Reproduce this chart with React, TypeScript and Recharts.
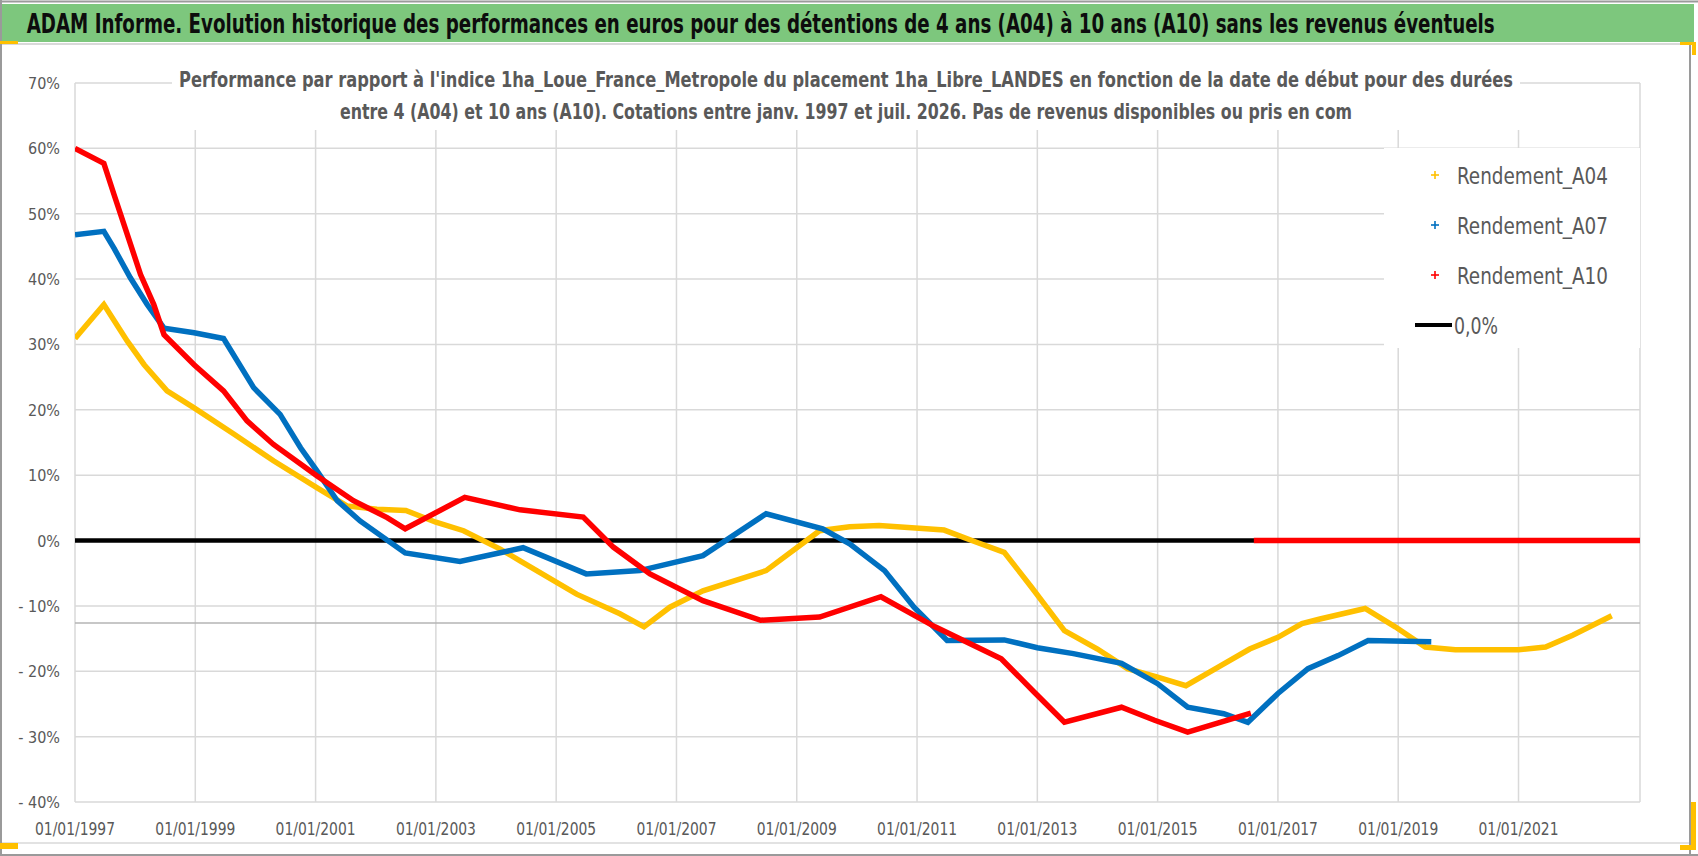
import React from "react";
import { LineChart, Line, XAxis, YAxis, CartesianGrid, ReferenceLine, Legend } from "recharts";

// ---------- data ----------
const A04_YEARS = [1997.0, 1997.48, 1997.87, 1998.15, 1998.53, 1998.98, 1999.64, 2000.3, 2001.02, 2001.52, 2002.02, 2002.5, 2003.0, 2003.46, 2004.07, 2004.4, 2005.34, 2006.06, 2006.46, 2006.89, 2007.44, 2008.49, 2009.0, 2009.38, 2009.88, 2010.37, 2011.45, 2012.0, 2012.45, 2012.9, 2013.45, 2014.0, 2014.5, 2015.0, 2015.47, 2016.0, 2016.53, 2017.0, 2017.4, 2017.7, 2018.45, 2018.95, 2019.45, 2019.95, 2021.0, 2021.45, 2021.9, 2022.55];
const A04_VALUES = [30.9, 36.1, 30.5, 26.9, 22.9, 20.3, 16.3, 12.2, 8.1, 5.3, 4.8, 4.6, 2.8, 1.5, -1.3, -3.1, -8.2, -11.2, -13.2, -10.2, -7.7, -4.6, -1.1, 1.5, 2.1, 2.3, 1.6, -0.3, -1.8, -7.1, -13.8, -16.6, -19.6, -20.9, -22.2, -19.4, -16.6, -14.8, -12.7, -12.0, -10.4, -13.2, -16.3, -16.7, -16.7, -16.3, -14.5, -11.5];

const A07_YEARS = [1997.0, 1997.48, 1997.65, 1997.92, 1998.2, 1998.48, 1998.98, 1999.47, 1999.97, 2000.41, 2000.75, 2001.02, 2001.36, 2001.74, 2002.49, 2003.4, 2004.45, 2005.5, 2006.39, 2007.44, 2008.49, 2009.43, 2009.88, 2010.46, 2010.95, 2011.5, 2012.45, 2013.0, 2013.6, 2014.4, 2015.0, 2015.5, 2016.1, 2016.5, 2017.0, 2017.5, 2018.0, 2018.5, 2019.55];
const A07_VALUES = [46.8, 47.3, 44.7, 40.2, 36.1, 32.5, 31.8, 30.9, 23.4, 19.3, 14.2, 10.7, 6.1, 3.0, -1.9, -3.2, -1.1, -5.1, -4.6, -2.3, 4.1, 1.8, -0.5, -4.6, -10.2, -15.3, -15.2, -16.4, -17.3, -18.8, -21.9, -25.5, -26.5, -27.8, -23.4, -19.6, -17.6, -15.3, -15.5];

const A10_YEARS = [1997.0, 1997.48, 1997.65, 1997.87, 1998.09, 1998.31, 1998.48, 1998.98, 1999.47, 1999.86, 2000.3, 2001.02, 2001.63, 2002.19, 2002.49, 2003.48, 2004.4, 2005.45, 2005.95, 2006.56, 2007.44, 2008.4, 2009.38, 2010.4, 2011.3, 2012.4, 2012.95, 2013.45, 2014.4, 2014.95, 2015.5, 2016.55];
const A10_VALUES = [60.0, 57.7, 52.9, 46.8, 40.7, 36.1, 31.5, 26.9, 22.9, 18.3, 14.7, 9.9, 6.1, 3.5, 1.8, 6.6, 4.7, 3.6, -1.0, -5.1, -9.2, -12.2, -11.7, -8.6, -13.2, -18.1, -23.2, -27.8, -25.5, -27.5, -29.3, -26.4];
// A10 has no quotations after mid-2016: Excel plots it as 0
const A10_ZERO_YEARS = [2016.6, 2023.02];
const A10_ZERO_VALUES = [0, 0];

const ZERO_YEARS = [1997.0, 2023.02];
const ZERO_VALUES = [0, 0];

const GRAY_LEVEL = -12.6;

const X_TICKS = [1997, 1999, 2001, 2003, 2005, 2007, 2009, 2011, 2013, 2015, 2017, 2019, 2021];
const Y_TICKS = [-40, -30, -20, -10, 0, 10, 20, 30, 40, 50, 60, 70];

const TITLE = "ADAM Informe. Evolution historique des performances en euros pour des détentions de 4 ans (A04) à 10 ans (A10) sans les revenus éventuels";
const SUBTITLE_1 = "Performance par rapport à l'indice 1ha_Loue_France_Metropole  du placement 1ha_Libre_LANDES en fonction de la date de début pour des durées";
const SUBTITLE_2 = "entre 4 (A04) et 10 ans (A10). Cotations entre janv. 1997 et juil. 2026. Pas de revenus disponibles ou pris en com";

const SERIES_NAMES = ["Rendement_A04", "Rendement_A07", "Rendement_A10", "0,0%"];
const SERIES_COLORS = ["#FFC000", "#0070C0", "#FF0000", "#000000"];

// ---------- helpers ----------
const toPoints = (xs: number[], ys: (number | null)[]) => xs.map((x, i) => ({ x, y: ys[i] }));

const a04Data = toPoints(A04_YEARS, A04_VALUES);
const a07Data = toPoints(A07_YEARS, A07_VALUES);
const a10Data = [
  ...toPoints(A10_YEARS, A10_VALUES),
  { x: (A10_YEARS[A10_YEARS.length - 1] + A10_ZERO_YEARS[0]) / 2, y: null },
  ...toPoints(A10_ZERO_YEARS, A10_ZERO_VALUES),
];
const zeroData = toPoints(ZERO_YEARS, ZERO_VALUES);

const FONT = '"Liberation Sans Narrow", "Arial Narrow", "DejaVu Sans Condensed", "Liberation Sans", Arial, sans-serif';
const GRAY_TEXT = "#595959";

const fmtY = (v: number) => (v < 0 ? `- ${Math.abs(v)}%` : `${v}%`);
const fmtX = (v: number) => `01/01/${v}`;

const XTick = (props: any) => {
  const { x, y, payload } = props;
  return (
    <text
      transform={`translate(${x} ${y + 33}) scale(1 1.12)`}
      textAnchor="middle"
      fontFamily={FONT}
      fontSize={15}
      fill={GRAY_TEXT}
      textLength={80}
      lengthAdjust="spacingAndGlyphs"
    >
      {fmtX(payload.value)}
    </text>
  );
};

const YTick = (props: any) => {
  const { x, y, payload } = props;
  return (
    <text x={x - 15} y={y + 6} textAnchor="end" fontFamily={FONT} fontSize={16} fill={GRAY_TEXT}>
      {fmtY(payload.value)}
    </text>
  );
};

const LegendContent = () => {
  const rows = [27, 77, 127, 177];
  return (
    <svg width={256} height={200} style={{ display: "block" }}>
      <rect x={0} y={0} width={256} height={200} fill="#ffffff" />
      {SERIES_NAMES.map((name, i) => {
        const cy = rows[i];
        const isLine = i === 3;
        return (
          <g key={name}>
            {isLine ? (
              <line x1={31} x2={68} y1={cy} y2={cy} stroke={SERIES_COLORS[i]} strokeWidth={4} />
            ) : (
              <g stroke={SERIES_COLORS[i]} strokeWidth={1.6}>
                <line x1={47} x2={55} y1={cy} y2={cy} />
                <line x1={51} x2={51} y1={cy - 4} y2={cy + 4} />
              </g>
            )}
            <text
              transform={`translate(${isLine ? 70 : 73} ${cy + 8.5}) scale(1 1.1)`}
              fontFamily={FONT}
              fontSize={21}
              fill={GRAY_TEXT}
              textLength={isLine ? 44 : 151}
              lengthAdjust="spacingAndGlyphs"
            >
              {name}
            </text>
          </g>
        );
      })}
    </svg>
  );
};

export default function App() {
  return (
    <div style={{ position: "absolute", left: 0, top: 0, width: 1698, height: 856, background: "#ffffff", overflow: "hidden" }}>
      <LineChart width={1698} height={856} margin={{ top: 83, right: 58, left: 0, bottom: 0 }}>
        <CartesianGrid stroke="#d9d9d9" strokeWidth={1.5} />
        <XAxis
          type="number"
          dataKey="x"
          domain={[1997, 2023.02]}
          ticks={X_TICKS}
          allowDataOverflow
          axisLine={false}
          tickLine={false}
          tickSize={0}
          tickMargin={0}
          height={54}
          tick={<XTick />}
          interval={0}
        />
        <YAxis
          type="number"
          domain={[-40, 70]}
          ticks={Y_TICKS}
          allowDataOverflow
          axisLine={false}
          tickLine={false}
          tickSize={0}
          tickMargin={0}
          width={75}
          tick={<YTick />}
          interval={0}
        />
        <ReferenceLine y={GRAY_LEVEL} stroke="#b4b4b4" strokeWidth={1.5} />
        <Line data={zeroData} dataKey="y" name={SERIES_NAMES[3]} stroke={SERIES_COLORS[3]} strokeWidth={4.5} dot={false} isAnimationActive={false} type="linear" />
        <Line data={a04Data} dataKey="y" name={SERIES_NAMES[0]} stroke={SERIES_COLORS[0]} strokeWidth={5.5} dot={false} isAnimationActive={false} type="linear" />
        <Line data={a07Data} dataKey="y" name={SERIES_NAMES[1]} stroke={SERIES_COLORS[1]} strokeWidth={5.5} dot={false} isAnimationActive={false} type="linear" />
        <Line data={a10Data} dataKey="y" name={SERIES_NAMES[2]} stroke={SERIES_COLORS[2]} strokeWidth={5.5} dot={false} isAnimationActive={false} type="linear" connectNulls={false} />
        <Legend
          layout="vertical"
          align="center"
          verticalAlign="middle"
          content={<LegendContent />}
          wrapperStyle={{ position: "absolute", left: 1384, top: 148, width: 256, height: 200 }}
        />
      </LineChart>
      <svg width={1698} height={856} style={{ position: "absolute", left: 0, top: 0, pointerEvents: "none" }}>
        {/* outer frame */}
        <line x1={0} x2={1698} y1={1.5} y2={1.5} stroke="#9a9a9a" strokeWidth={2} />
        <line x1={1} x2={1} y1={0} y2={856} stroke="#9a9a9a" strokeWidth={2} />
        <line x1={1690} x2={1690} y1={42} y2={856} stroke="#9a9a9a" strokeWidth={2} />
        <line x1={0} x2={1698} y1={855} y2={855} stroke="#9a9a9a" strokeWidth={2} />
        {/* title bar */}
        <rect x={2} y={4} width={1692} height={38} fill="#7DC77D" />
        <line x1={2} x2={1689} y1={44} y2={44} stroke="#d9d9d9" strokeWidth={2} />
        <line x1={2} x2={1689} y1={843} y2={843} stroke="#d9d9d9" strokeWidth={1.5} />
        <text
          transform="translate(26.7 33.3) scale(1 1.2)"
          fontFamily={FONT}
          fontWeight="bold"
          fontSize={22}
          fill="#0d0d0d"
          textLength={1468}
          lengthAdjust="spacingAndGlyphs"
        >
          {TITLE}
        </text>
        {/* subtitle box */}
        <rect x={172} y={52} width={1348} height={78} fill="#ffffff" />
        <text
          transform="translate(179 86.7) scale(1 1.26)"
          fontFamily={FONT}
          fontWeight="bold"
          fontSize={17}
          fill={GRAY_TEXT}
          textLength={1334}
          lengthAdjust="spacingAndGlyphs"
        >
          {SUBTITLE_1}
        </text>
        <text
          transform="translate(340 119.3) scale(1 1.26)"
          fontFamily={FONT}
          fontWeight="bold"
          fontSize={17}
          fill={GRAY_TEXT}
          textLength={1012}
          lengthAdjust="spacingAndGlyphs"
        >
          {SUBTITLE_2}
        </text>
        {/* selection handles */}
        <rect x={0} y={41} width={18} height={3} fill="#FFC000" />
        <rect x={1680} y={42} width={16} height={3} fill="#FFC000" />
        <rect x={1692} y={42} width={4} height={13} fill="#FFC000" />
        <rect x={0} y={843} width={18} height={6} fill="#FFC000" />
        <rect x={1691} y={802} width={5} height={48} fill="#FFC000" />
        <rect x={1680} y={845} width={16} height={5} fill="#FFC000" />
      </svg>
    </div>
  );
}
